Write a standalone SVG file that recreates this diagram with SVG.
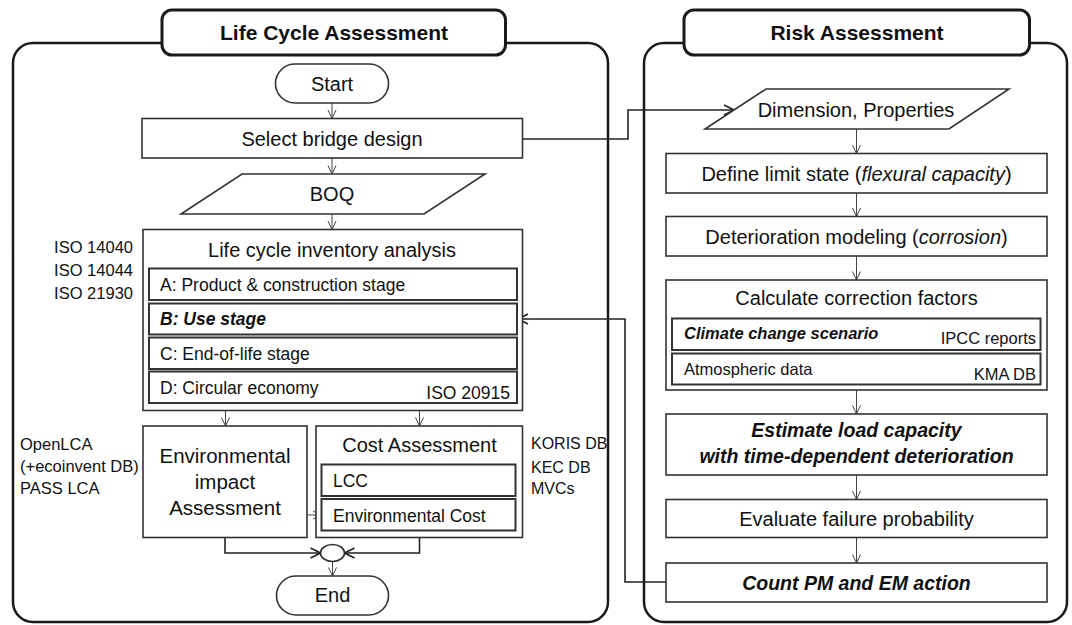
<svg xmlns="http://www.w3.org/2000/svg" width="1072" height="625" viewBox="0 0 1072 625">
<defs>
<style>
.panel{fill:none;stroke:#1a1a1a;stroke-width:2.5}
.hdr{fill:#fff;stroke:#1a1a1a;stroke-width:3}
.box{fill:#fff;stroke:#333;stroke-width:1.6}
.sub{fill:#fff;stroke:#333;stroke-width:2}
.t{font-family:"Liberation Sans",Arial,sans-serif;fill:#111;font-size:20px}
.c{text-anchor:middle}
.e{text-anchor:end}
.s{font-size:17.5px}
.l{font-size:16.5px}
.r{font-size:16.5px}
.bh{font-weight:bold;font-size:21px}
.bi{font-weight:bold;font-style:italic}
.i{font-style:italic}
.ar{fill:none;stroke:#444;stroke-width:1}
.cn{fill:none;stroke:#222;stroke-width:1.6}
</style>
<marker id="a" markerWidth="10" markerHeight="10" viewBox="0 0 10 10" refX="9.5" refY="5" orient="auto" markerUnits="userSpaceOnUse"><path d="M1,1 L9.5,5 L1,9" fill="none" stroke="#444" stroke-width="1"/></marker>
<marker id="b" markerWidth="12" markerHeight="12" viewBox="0 0 12 12" refX="11" refY="6" orient="auto" markerUnits="userSpaceOnUse"><path d="M1,1 L11,6 L1,11" fill="none" stroke="#222" stroke-width="1.6"/></marker>
</defs>
<rect width="1072" height="625" fill="#fff"/>

<g id="panel-lca">
<rect class="panel" x="13" y="43" width="595" height="579" rx="20"/>
<rect class="hdr" x="162" y="10" width="343.5" height="45" rx="10"/>
<text class="t c bh" x="334" y="40">Life Cycle Assessment</text>
</g>
<g id="panel-risk">
<rect class="panel" x="644" y="43" width="423" height="579" rx="20"/>
<rect class="hdr" x="684" y="10" width="345.5" height="45" rx="10"/>
<text class="t c bh" x="857" y="40">Risk Assessment</text>
</g>

<g id="connectors">
<line class="ar" x1="332" y1="103" x2="332" y2="118.5" marker-end="url(#a)"/>
<line class="ar" x1="332" y1="157.5" x2="332" y2="174" marker-end="url(#a)"/>
<line class="ar" x1="332" y1="214" x2="332" y2="229.5" marker-end="url(#a)"/>
<line class="ar" x1="225.5" y1="410.5" x2="225.5" y2="426" marker-end="url(#a)"/>
<line class="ar" x1="419.5" y1="410.5" x2="419.5" y2="426" marker-end="url(#a)"/>
<line class="ar" x1="307" y1="515" x2="321.5" y2="515" marker-end="url(#a)"/>
<polyline class="cn" points="225,537.5 225,553 320.5,553" marker-end="url(#b)"/>
<polyline class="cn" points="419.5,537.5 419.5,553 344.5,553" marker-end="url(#b)"/>
<line class="ar" x1="332.5" y1="561.5" x2="332.5" y2="576" marker-end="url(#a)"/>
<polyline class="cn" points="522.5,139 628,139 628,110 734,110" marker-end="url(#b)"/>
<polyline class="cn" points="666,582 625,582 625,319 518,319" marker-end="url(#b)"/>
<line class="ar" x1="856.5" y1="129" x2="856.5" y2="153.5" marker-end="url(#a)"/>
<line class="ar" x1="856.5" y1="193" x2="856.5" y2="216.5" marker-end="url(#a)"/>
<line class="ar" x1="856.5" y1="256" x2="856.5" y2="280" marker-end="url(#a)"/>
<line class="ar" x1="856.5" y1="390" x2="856.5" y2="414" marker-end="url(#a)"/>
<line class="ar" x1="856.5" y1="475" x2="856.5" y2="499.5" marker-end="url(#a)"/>
<line class="ar" x1="856.5" y1="537.5" x2="856.5" y2="563" marker-end="url(#a)"/>
</g>

<g id="start">
<rect class="box" x="275.5" y="64" width="113" height="39" rx="19.5"/>
<text class="t c" x="332" y="91">Start</text>
</g>
<g id="select-bridge-design">
<rect class="box" x="142" y="118.5" width="380.5" height="39.5"/>
<text class="t c" x="332" y="145.5">Select bridge design</text>
</g>
<g id="boq">
<polygon class="box" points="242,174 485,174 424,214 181,214"/>
<text class="t c" x="332" y="201">BOQ</text>
</g>
<g id="lci">
<rect class="box" x="143" y="229.5" width="379.5" height="181"/>
<text class="t c" x="332" y="257">Life cycle inventory analysis</text>
<rect class="sub" x="149" y="268.5" width="368" height="31.5"/>
<text class="t s" x="160" y="290.5">A: Product &amp; construction stage</text>
<rect class="sub" x="149" y="303.5" width="368" height="31"/>
<text class="t s bi" x="160" y="325">B: Use stage</text>
<rect class="sub" x="149" y="337.5" width="368" height="31.5"/>
<text class="t s" x="160" y="359.5">C: End-of-life stage</text>
<rect class="sub" x="149" y="371.5" width="368" height="31.5"/>
<text class="t s" x="160" y="393.5">D: Circular economy</text>
<text class="t s e" x="510" y="399">ISO 20915</text>
</g>
<g id="iso-labels">
<text class="t l e" x="133" y="253">ISO 14040</text>
<text class="t l e" x="133" y="276">ISO 14044</text>
<text class="t l e" x="133" y="299">ISO 21930</text>
</g>
<g id="env-impact">
<rect class="box" x="143" y="426" width="164" height="111.5"/>
<text class="t c" style="font-size:20.5px" x="225" y="462.5">Environmental</text>
<text class="t c" style="font-size:20.5px" x="225" y="489">impact</text>
<text class="t c" style="font-size:20.5px" x="225" y="515">Assessment</text>
</g>
<g id="cost-assessment">
<rect class="box" x="316" y="426" width="206.5" height="111.5"/>
<text class="t c" x="419.5" y="451.5">Cost Assessment</text>
<rect class="sub" x="321.5" y="464.5" width="194" height="31.5"/>
<text class="t s" x="333" y="487">LCC</text>
<rect class="sub" x="321.5" y="499" width="194" height="31.5"/>
<text class="t s" x="333" y="521.5">Environmental Cost</text>
</g>
<g id="lca-tools">
<text class="t l" x="20" y="450">OpenLCA</text>
<text class="t l" x="20" y="472">(+ecoinvent DB)</text>
<text class="t l" x="20" y="494">PASS LCA</text>
</g>
<g id="cost-db">
<text class="t" style="font-size:16px" x="531" y="449">KORIS DB</text>
<text class="t" style="font-size:16px" x="531" y="472.5">KEC DB</text>
<text class="t" style="font-size:16px" x="531" y="494">MVCs</text>
</g>
<g id="merge">
<ellipse class="box" cx="332.5" cy="553" rx="12" ry="8.5"/>
</g>
<g id="end">
<rect class="box" x="276.5" y="576" width="112" height="39" rx="19.5"/>
<text class="t c" x="332.5" y="602">End</text>
</g>

<g id="dimension-properties">
<polygon class="box" points="766,89 1009,89 949,129 705,129"/>
<text class="t c" x="856" y="116.5">Dimension, Properties</text>
</g>
<g id="define-limit-state">
<rect class="box" x="666" y="153.5" width="381" height="39.5"/>
<text class="t c" x="856.5" y="180.5">Define limit state (<tspan class="i">flexural capacity</tspan>)</text>
</g>
<g id="deterioration-modeling">
<rect class="box" x="666" y="216.5" width="381" height="39.5"/>
<text class="t c" x="856.5" y="243.5">Deterioration modeling (<tspan class="i">corrosion</tspan>)</text>
</g>
<g id="correction-factors">
<rect class="box" x="666" y="280" width="381" height="110"/>
<text class="t c" x="856.5" y="305">Calculate correction factors</text>
<rect class="sub" x="672" y="318.5" width="368.5" height="31.5"/>
<text class="t r bi" x="684" y="339">Climate change scenario</text>
<text class="t r e" x="1036" y="344">IPCC reports</text>
<rect class="sub" x="672" y="353.5" width="368.5" height="31"/>
<text class="t r" x="684" y="375">Atmospheric data</text>
<text class="t r e" x="1036" y="380">KMA DB</text>
</g>
<g id="estimate-load-capacity">
<rect class="box" x="666" y="414" width="381" height="61"/>
<text class="t c bi" style="font-size:19.5px" x="856.5" y="437">Estimate load capacity</text>
<text class="t c bi" style="font-size:19.5px" x="856.5" y="463">with time-dependent deterioration</text>
</g>
<g id="failure-probability">
<rect class="box" x="666" y="499.5" width="381" height="38"/>
<text class="t c" x="856.5" y="525.5">Evaluate failure probability</text>
</g>
<g id="count-pm-em">
<rect class="box" x="666" y="563" width="381" height="39"/>
<text class="t c bi" style="font-size:19.5px" x="856.5" y="589.5">Count PM and EM action</text>
</g>
</svg>
